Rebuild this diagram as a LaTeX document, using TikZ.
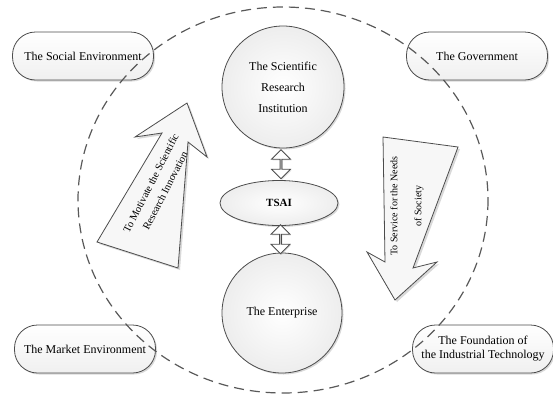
\documentclass[tikz,border=0pt]{standalone}
\usepackage{fontspec}
\setmainfont{Liberation Serif}
\usepackage{tikz}
\usetikzlibrary{shapes,arrows,calc,positioning,shadows,shapes.arrows}

\begin{document}
\begin{tikzpicture}[x=1pt,y=-1pt,
                    font=\fontsize{12}{14}\selectfont,
                    envbox/.style={draw=black!70,line width=0.8pt,rounded corners=23pt,
                      minimum width=141pt,minimum height=48pt,align=center,
                      top color=white,bottom color=gray!12,
                      drop shadow={shadow xshift=1.5pt,shadow yshift=-1.5pt,opacity=0.3}},
                    unit/.style={draw=black!70,line width=0.8pt,circle,align=center,
                      inner color=white,outer color=gray!14,
                      drop shadow={shadow xshift=1.5pt,shadow yshift=-1.5pt,opacity=0.3}},
                    dblarr/.style={draw=black!70,line width=0.8pt,fill=white,double arrow,
                      rotate=90,minimum height=29pt,minimum width=19pt,inner sep=0pt,
                      double arrow head extend=4pt,
                      drop shadow={shadow xshift=1pt,shadow yshift=-1pt,opacity=0.25}},
                    bigarrow/.style={draw=black!70,line width=0.8pt,fill=gray!6,
                      drop shadow={shadow xshift=2pt,shadow yshift=-2pt,opacity=0.3}},
                    ring/.style={draw=black!65,line width=1.2pt,dash pattern=on 10pt off 6pt}]

  \useasboundingbox (0,0) rectangle (553,394);

  % the four surroundings
  \node[envbox] (soc) at (83,56)  {The Social Environment};
  \node[envbox] (gov) at (477,56) {The Government};
  \node[envbox] (mkt) at (85,349) {The Market Environment};
  \node[envbox] (fnd) at (483,349) {The Foundation of\\the Industrial Technology};

  % the centre
  \node[unit,minimum size=122pt,font=\fontsize{12}{21}\selectfont] (sri) at (283,87)
       {The Scientific\\Research\\Institution};
  \node[unit,ellipse,minimum width=118pt,minimum height=45pt,
        font=\fontsize{11}{13}\selectfont\bfseries] (tsai) at (279,203) {TSAI};
  \node[unit,minimum size=120pt] (ent) at (282,313) {The Enterprise};

  \node[dblarr] (a1) at ($(sri.south)!0.5!(tsai.north)$) {};
  \node[dblarr] (a2) at ($(tsai.south)!0.5!(ent.north)$) {};

  % the two big arrows
  \draw[bigarrow] (187,103) -- (207,157) -- (188,142) -- (178,268) -- (97,242)
                  -- (162,133) -- (135,137) -- cycle;
  \node[rotate=63,align=center,font=\fontsize{10.5}{16}\selectfont] (mot) at (158,187)
       {To Motivate the Scientific\\Research Innovation};

  \draw[bigarrow] (383,137) -- (458,147) -- (413,268) -- (437,262) -- (395,300)
                  -- (367,252) -- (385,262) -- cycle;
  \node[rotate=90,align=center,font=\fontsize{10}{24}\selectfont] (svc) at (407,206)
       {To Service for the Needs\\of Society};

  % dashed ring on top
  \draw[ring] (283,200) ellipse [x radius=205,y radius=193];

\end{tikzpicture}
\end{document}
